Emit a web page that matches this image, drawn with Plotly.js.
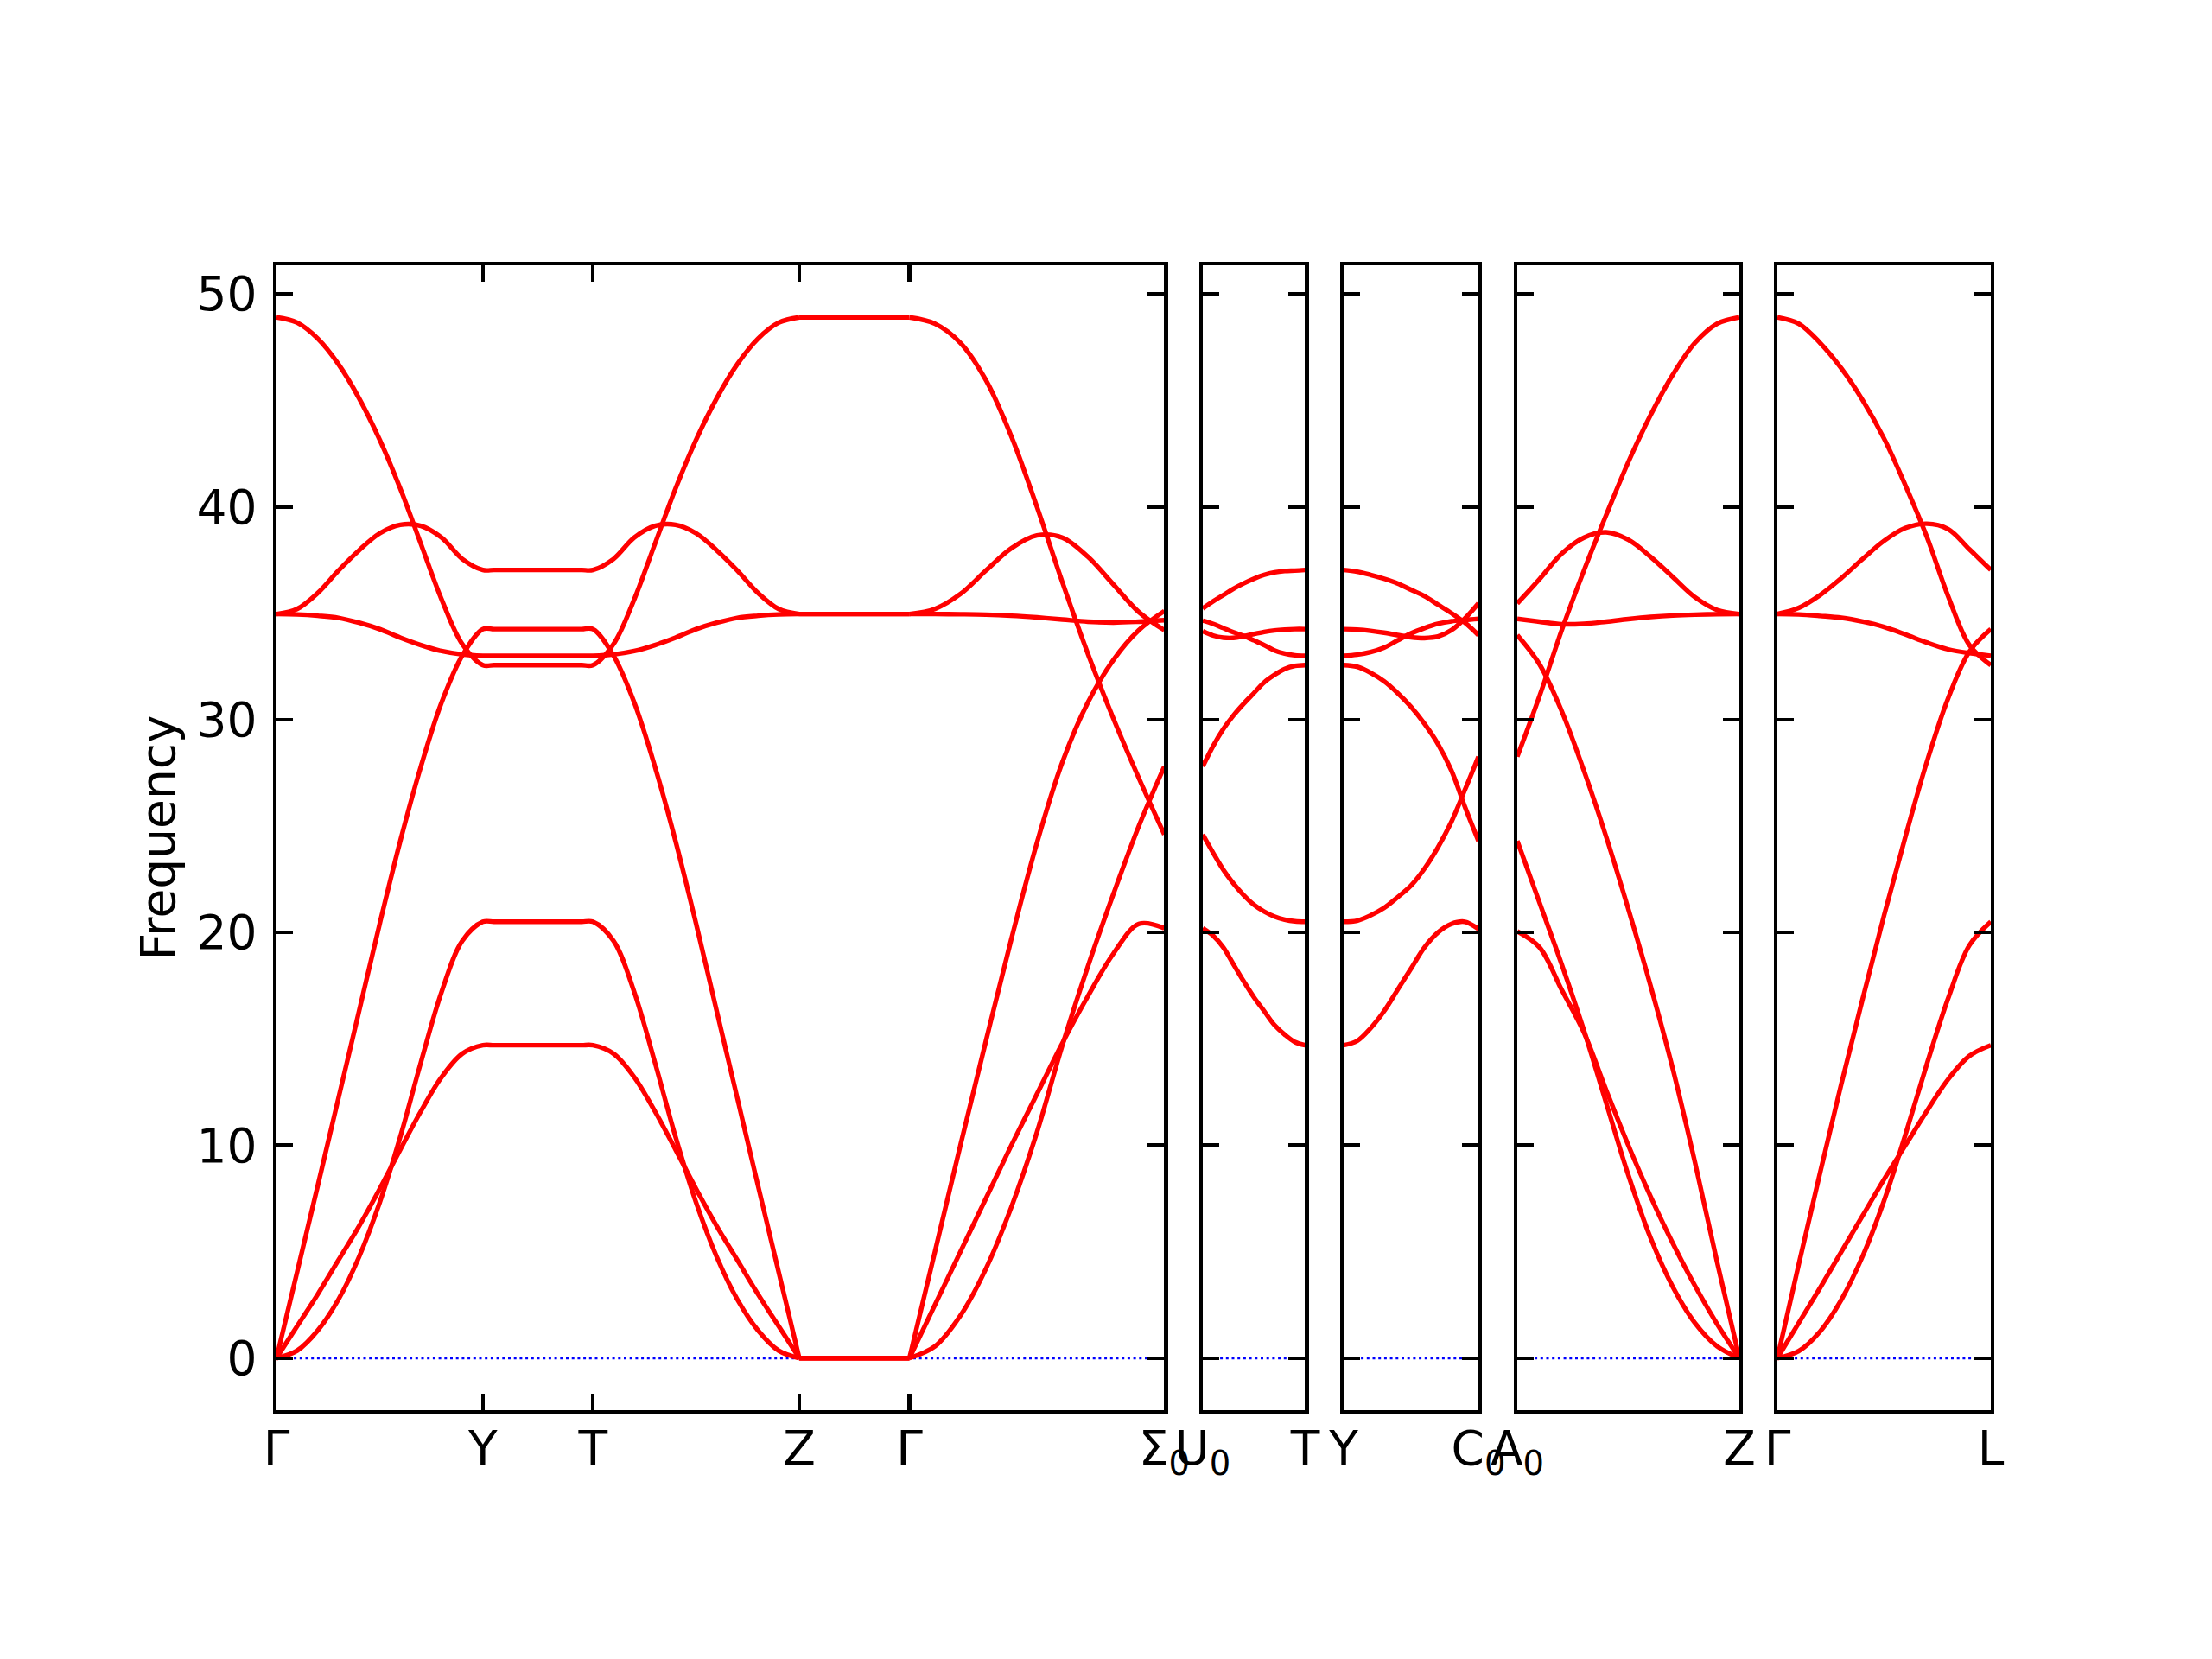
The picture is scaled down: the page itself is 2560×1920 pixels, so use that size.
<!DOCTYPE html>
<html>
<head>
<meta charset="utf-8">
<script src="https://cdn.plot.ly/plotly-3.0.1.min.js"></script>
<style>html,body{margin:0;padding:0;background:#fff;}</style>
</head>
<body>
<div id="chart" style="width:2560px;height:1920px;"></div>
<script>
// ---- High-symmetry points: cumulative path distance and labels ----
const p1Dist = [0.0, 0.2388, 0.3663, 0.6051, 0.7326, 1.0276];
const p1Labels = ['Γ', 'Y', 'T', 'Z', 'Γ', 'Σ<sub>0</sub>'];
const p2Dist = [1.0276, 1.1461];
const p2Labels = ['U<sub>0</sub>', 'T'];
const p3Dist = [1.1461, 1.3021];
const p3Labels = ['Y', 'C<sub>0</sub>'];
const p4Dist = [1.3021, 1.5591];
const p4Labels = ['A<sub>0</sub>', 'Z'];
const p5Dist = [1.5591, 1.8061];
const p5Labels = ['Γ', 'L'];

const yTicks = [0, 10, 20, 30, 40, 50];

// ---- Band frequencies, sampled evenly along each path segment (6 bands) ----
const segGY = [
  [0, 4.05, 8.1, 12.2, 16.3, 20.4, 24.3, 27.8, 30.8, 33.0, 34.25],
  [48.9, 48.65, 47.9, 46.7, 45.1, 43.15, 40.85, 38.25, 35.65, 33.55, 32.56],
  [34.96, 34.94, 34.88, 34.78, 34.55, 34.25, 33.85, 33.5, 33.22, 33.06, 33.0],
  [34.96, 35.2, 35.95, 37.0, 37.95, 38.75, 39.15, 39.1, 38.55, 37.55, 37.03],
  [0, 0.35, 1.3, 2.75, 4.75, 7.3, 10.4, 13.9, 17.2, 19.6, 20.5],
  [0, 1.5, 3.0, 4.6, 6.2, 7.95, 9.8, 11.6, 13.2, 14.3, 14.7]
];
const segYT = [
  [34.25, 34.25, 34.25, 34.25, 34.25, 34.25, 34.25, 34.25, 34.25, 34.25, 34.25],
  [32.56, 32.56, 32.56, 32.56, 32.56, 32.56, 32.56, 32.56, 32.56, 32.56, 32.56],
  [33.0, 33.0, 33.0, 33.0, 33.0, 33.0, 33.0, 33.0, 33.0, 33.0, 33.0],
  [37.03, 37.03, 37.03, 37.03, 37.03, 37.03, 37.03, 37.03, 37.03, 37.03, 37.03],
  [20.5, 20.5, 20.5, 20.5, 20.5, 20.5, 20.5, 20.5, 20.5, 20.5, 20.5],
  [14.7, 14.7, 14.7, 14.7, 14.7, 14.7, 14.7, 14.7, 14.7, 14.7, 14.7]
];
const segTZ = [
  [34.25, 33.0, 30.8, 27.8, 24.3, 20.4, 16.3, 12.2, 8.1, 4.05, 0],
  [32.56, 33.55, 35.65, 38.25, 40.85, 43.15, 45.1, 46.7, 47.9, 48.65, 48.9],
  [33.0, 33.06, 33.22, 33.5, 33.85, 34.25, 34.55, 34.78, 34.88, 34.94, 34.96],
  [37.03, 37.55, 38.55, 39.1, 39.15, 38.75, 37.95, 37.0, 35.95, 35.2, 34.96],
  [20.5, 19.6, 17.2, 13.9, 10.4, 7.3, 4.75, 2.75, 1.3, 0.35, 0],
  [14.7, 14.3, 13.2, 11.6, 9.8, 7.95, 6.2, 4.6, 3.0, 1.5, 0]
];
const segZG = [
  [0, 0],
  [48.9, 48.9],
  [34.96, 34.96],
  [34.96, 34.96],
  [0, 0],
  [0, 0]
];
const segGS = [
  [0, 5.0, 10.0, 14.9, 19.7, 24.2, 28.0, 30.8, 32.8, 34.2, 35.1],
  [48.9, 48.6, 47.7, 45.95, 43.3, 40.0, 36.45, 33.1, 30.05, 27.25, 24.6],
  [34.96, 34.96, 34.95, 34.93, 34.88, 34.8, 34.7, 34.6, 34.56, 34.6, 34.67],
  [34.96, 35.2, 35.9, 37.0, 38.05, 38.65, 38.55, 37.65, 36.35, 35.05, 34.2],
  [0, 0.55, 2.0, 4.2, 7.1, 10.6, 14.7, 18.4, 21.8, 25.0, 27.8],
  [0, 2.5, 5.0, 7.5, 10.0, 12.4, 14.8, 17.0, 19.0, 20.4, 20.2]
];
const segU0T = [
  [35.22, 35.55, 35.85, 36.15, 36.4, 36.62, 36.8, 36.92, 36.98, 37.0, 37.03],
  [34.65, 34.5, 34.3, 34.1, 33.93, 33.72, 33.5, 33.25, 33.1, 33.02, 33.0],
  [34.15, 33.95, 33.85, 33.84, 33.92, 34.02, 34.12, 34.19, 34.23, 34.25, 34.25],
  [27.8, 28.75, 29.55, 30.2, 30.75, 31.25, 31.75, 32.1, 32.38, 32.52, 32.56],
  [24.6, 23.75, 22.95, 22.3, 21.75, 21.3, 20.98, 20.75, 20.6, 20.52, 20.5],
  [20.2, 19.85, 19.3, 18.5, 17.7, 16.95, 16.3, 15.65, 15.2, 14.85, 14.7]
];
const segYC0 = [
  [37.03, 36.95, 36.8, 36.62, 36.4, 36.1, 35.8, 35.4, 35.0, 34.55, 33.97],
  [34.25, 34.23, 34.17, 34.08, 33.97, 33.87, 33.83, 33.9, 34.2, 34.75, 35.46],
  [33.0, 33.05, 33.17, 33.38, 33.72, 34.05, 34.3, 34.5, 34.62, 34.68, 34.73],
  [32.56, 32.48, 32.2, 31.8, 31.25, 30.6, 29.8, 28.85, 27.6, 25.9, 24.3],
  [20.5, 20.55, 20.8, 21.15, 21.65, 22.2, 23.0, 24.0, 25.2, 26.7, 28.26],
  [14.7, 14.9, 15.5, 16.3, 17.3, 18.3, 19.3, 20.0, 20.4, 20.5, 20.16]
];
const segA0Z = [
  [28.26, 31.1, 34.2, 37.0, 39.6, 42.1, 44.3, 46.2, 47.7, 48.6, 48.9],
  [33.97, 32.6, 30.4, 27.6, 24.5, 21.1, 17.5, 13.6, 9.2, 4.5, 0],
  [35.46, 36.6, 37.8, 38.55, 38.8, 38.45, 37.65, 36.7, 35.75, 35.15, 34.96],
  [34.73, 34.6, 34.48, 34.5, 34.6, 34.72, 34.82, 34.89, 34.93, 34.95, 34.96],
  [24.3, 21.4, 18.5, 15.4, 12.0, 8.6, 5.65, 3.35, 1.65, 0.55, 0],
  [20.05, 19.3, 17.3, 15.3, 12.6, 10.0, 7.6, 5.4, 3.4, 1.6, 0]
];
const segGL = [
  [0, 4.4, 8.7, 12.9, 16.9, 20.8, 24.5, 28.0, 31.0, 33.2, 34.25],
  [48.9, 48.6, 47.7, 46.5, 45.0, 43.2, 41.0, 38.6, 35.8, 33.5, 32.56],
  [34.96, 34.94, 34.87, 34.78, 34.6, 34.35, 34.0, 33.62, 33.3, 33.12, 33.0],
  [34.96, 35.25, 35.85, 36.65, 37.55, 38.4, 39.0, 39.2, 38.95, 38.0, 37.03],
  [0, 0.33, 1.25, 2.75, 4.8, 7.4, 10.5, 13.8, 16.9, 19.4, 20.5],
  [0, 1.65, 3.3, 5.0, 6.7, 8.4, 10.0, 11.6, 13.1, 14.2, 14.7]
];

// ---- Figure assembly ----
const FONT = {family: 'DejaVu Sans, Liberation Sans, sans-serif', size: 55, color: '#000000'};
const yRange = [-2.445, 51.345];

// groups: runs of segments drawn as one continuous smooth curve
const panels = [
  {dist: p1Dist, labels: p1Labels, segs: [segGY, segYT, segTZ, segZG, segGS], groups: [[0, 1, 2], [3], [4]], dom: [0.0, 0.51789]},
  {dist: p2Dist, labels: p2Labels, segs: [segU0T], groups: [[0]], dom: [0.54032, 0.60005]},
  {dist: p3Dist, labels: p3Labels, segs: [segYC0], groups: [[0]], dom: [0.62248, 0.70111]},
  {dist: p4Dist, labels: p4Labels, segs: [segA0Z], groups: [[0]], dom: [0.72379, 0.85333]},
  {dist: p5Dist, labels: p5Labels, segs: [segGL], groups: [[0]], dom: [0.87550, 1.0]}
];

function bandXY(dist, segs, group, b) {
  const xs = [], ys = [];
  group.forEach((k, j) => {
    const d0 = dist[k], d1 = dist[k + 1], vals = segs[k][b], n = vals.length;
    for (let i = (j === 0 ? 0 : 1); i < n; i++) {
      xs.push(d0 + (d1 - d0) * i / (n - 1));
      ys.push(vals[i]);
    }
  });
  return {xs, ys};
}

const traces = [];
const layout = {
  width: 2560, height: 1920,
  margin: {l: 320, r: 256, t: 307, b: 288, pad: 0},
  paper_bgcolor: '#ffffff', plot_bgcolor: '#ffffff',
  showlegend: false,
  font: FONT
};

panels.forEach((p, idx) => {
  const n = idx + 1;
  const xk = n === 1 ? 'x' : 'x' + n;
  const yk = n === 1 ? 'y' : 'y' + n;
  const d0 = p.dist[0], d1 = p.dist[p.dist.length - 1];

  // zero reference (blue dotted)
  traces.push({
    type: 'scatter', mode: 'lines', x: [d0, d1], y: [0, 0],
    xaxis: xk, yaxis: yk, hoverinfo: 'skip',
    line: {color: '#0000ff', width: 2.8, dash: '3px,3.7px'}
  });
  // bands
  p.groups.forEach(g => {
    for (let b = 0; b < 6; b++) {
      const {xs, ys} = bandXY(p.dist, p.segs, g, b);
      traces.push({
        type: 'scatter', mode: 'lines', x: xs, y: ys,
        xaxis: xk, yaxis: yk, hoverinfo: 'skip',
        line: {color: '#ff0000', width: 5.4, shape: 'spline', smoothing: 1}
      });
    }
  });

  layout[n === 1 ? 'xaxis' : 'xaxis' + n] = {
    domain: p.dom, range: [d0, d1], anchor: yk,
    tickmode: 'array', tickvals: p.dist, ticktext: p.labels,
    ticks: 'inside', ticklen: 19, tickwidth: 4.4, tickcolor: '#000',
    showline: true, linecolor: '#000', linewidth: 4.4, mirror: 'ticks',
    showgrid: false, zeroline: false, tickfont: FONT,
    ticklabelstandoff: -7, fixedrange: true
  };
  const ya = {
    domain: [0, 1], range: yRange, anchor: xk,
    tickmode: 'array', tickvals: yTicks, ticktext: yTicks.map(String),
    ticks: 'inside', ticklen: 19, tickwidth: 4.4, tickcolor: '#000',
    showline: true, linecolor: '#000', linewidth: 4.4, mirror: 'ticks',
    showgrid: false, zeroline: false, tickfont: FONT,
    showticklabels: n === 1, fixedrange: true
  };
  if (n === 1) {
    ya.ticklabelstandoff = 7;
    ya.title = {text: 'Frequency', font: FONT, standoff: 9};
  }
  layout[n === 1 ? 'yaxis' : 'yaxis' + n] = ya;
});

Plotly.newPlot('chart', traces, layout, {staticPlot: true, displayModeBar: false});
</script>
</body>
</html>
